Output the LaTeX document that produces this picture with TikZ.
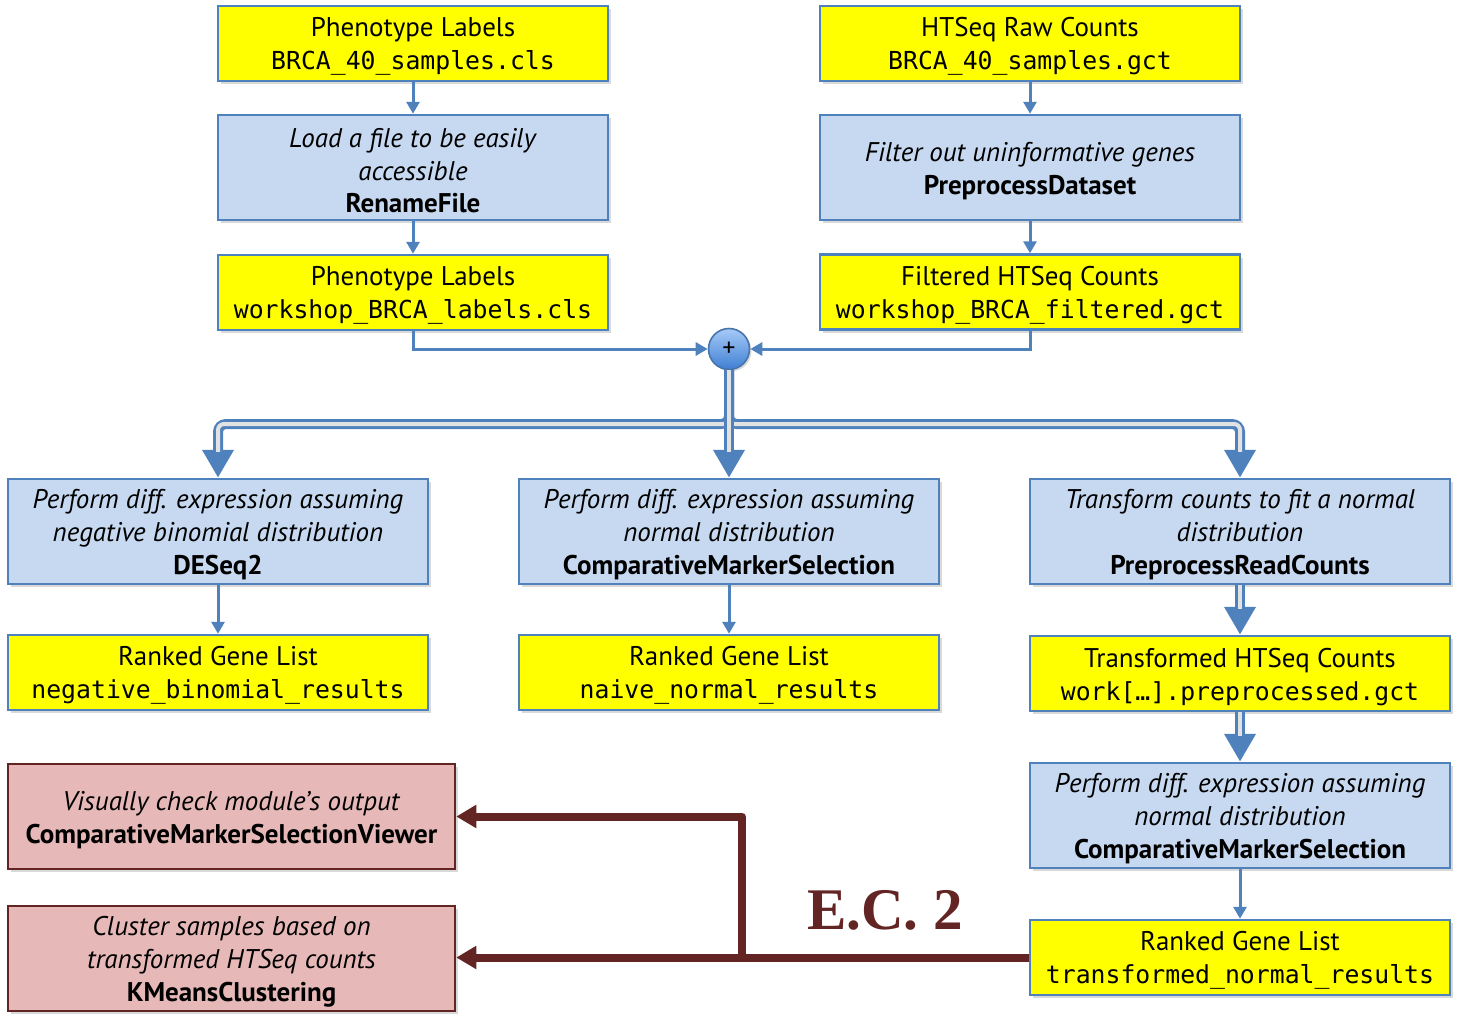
\documentclass[tikz,border=0pt]{standalone}
\usepackage{fontspec}
\setmainfont{PT Sans}
\setmonofont{DejaVu Sans Mono}
\newfontfamily\ecfont{Liberation Serif}
\usetikzlibrary{arrows.meta,shadows,calc}
\definecolor{boxblue}{HTML}{4F81BD}
\definecolor{yel}{HTML}{FFFF00}
\definecolor{lblue}{HTML}{C6D9F1}
\definecolor{rfill}{HTML}{E6B9B8}
\definecolor{rdark}{HTML}{632523}
\definecolor{gapcol}{HTML}{E2E2E2}
\definecolor{ctop}{HTML}{A6CAF8}
\definecolor{cbot}{HTML}{3F7FD3}
\newcommand{\mono}[1]{{\fontsize{12.4}{16.5}\selectfont\ttfamily #1}}
\newcommand{\tp}{\rule{0pt}{12.8pt}}
\tikzset{
  base/.style={draw, line width=1.25pt, align=center, inner sep=0pt,
    font=\fontsize{13.5}{16.4}\selectfont,
    drop shadow={shadow xshift=1.5pt, shadow yshift=-1.5pt, opacity=0.3}},
  data/.style={base, draw=boxblue, fill=yel},
  tool/.style={base, draw=boxblue, fill=lblue},
  extra/.style={base, draw=rdark, fill=rfill},
  nar/.style={minimum width=195pt},
  wid/.style={minimum width=210pt},
  rw/.style={minimum width=223.5pt},
  short/.style={minimum height=37.5pt},
  tall/.style={minimum height=52.5pt},
  thin/.style={draw=boxblue, line width=1.5pt, -{Triangle[length=6pt,width=6.5pt]}},
  dblout/.style={draw=boxblue, line width=5pt, rounded corners=4pt, -{Triangle[length=14pt,width=15pt]}},
  dblin/.style={draw=gapcol, line width=2pt, rounded corners=3pt, shorten >=13pt},
  redarrow/.style={draw=rdark, line width=4pt, line join=round, -{Triangle[length=10pt,width=11pt]}},
  plusnode/.style={circle, draw=boxblue!90!black, line width=0.8pt, minimum size=20.5pt, inner sep=0pt,
    top color=ctop, bottom color=cbot, font=\fontsize{13}{13}\selectfont,
    drop shadow={shadow xshift=1pt, shadow yshift=-1pt, opacity=0.3}}
}
\begin{document}
\begin{tikzpicture}[x=0.5pt,y=-0.5pt]
\useasboundingbox (0,0) rectangle (1466,1034);
% top left column
\node[data,nar,short] (A1) at (413,43.5) {\tp Phenotype Labels\\\mono{BRCA\_40\_samples.cls}};
\node[tool,nar,tall] (A2) at (413,167.5) {\tp\textit{Load a file to be easily}\\\textit{accessible}\\\textbf{RenameFile}};
\node[data,nar,short] (A3) at (413,292.5) {\tp Phenotype Labels\\\mono{workshop\_BRCA\_labels.cls}};
% top right column
\node[data,wid,short] (B1) at (1030,43.5) {\tp HTSeq Raw Counts\\\mono{BRCA\_40\_samples.gct}};
\node[tool,wid,tall] (B2) at (1030,167.5) {\tp\textit{Filter out uninformative genes}\\\textbf{PreprocessDataset}};
\node[data,wid,short] (B3) at (1030,292) {\tp Filtered HTSeq Counts\\\mono{workshop\_BRCA\_filtered.gct}};
% merge
\node[plusnode] (plus) at (729,349) {+};
\coordinate (split) at (729,424);
% middle row
\node[tool,wid,tall] (C1) at (218,531.5) {\tp\textit{Perform diff. expression assuming}\\\textit{negative binomial distribution}\\\textbf{DESeq2}};
\node[tool,wid,tall] (C2) at (729,531.5) {\tp\textit{Perform diff. expression assuming}\\\textit{normal distribution}\\\textbf{ComparativeMarkerSelection}};
\node[tool,wid,tall] (C3) at (1240,531.5) {\tp\textit{Transform counts to fit a normal}\\\textit{distribution}\\\textbf{PreprocessReadCounts}};
\node[data,wid,short] (D1) at (218,672.5) {\tp Ranked Gene List\\\mono{negative\_binomial\_results}};
\node[data,wid,short] (D2) at (729,672.5) {\tp Ranked Gene List\\\mono{naive\_normal\_results}};
\node[data,wid,short] (D3) at (1240,673.5) {\tp Transformed HTSeq Counts\\\mono{work[…].preprocessed.gct}};
\node[tool,wid,tall] (E3) at (1240,815.5) {\tp\textit{Perform diff. expression assuming}\\\textit{normal distribution}\\\textbf{ComparativeMarkerSelection}};
\node[data,wid,short] (F3) at (1240,957.5) {\tp Ranked Gene List\\\mono{transformed\_normal\_results}};
% extra credit
\node[extra,rw,tall] (R1) at (231.5,816.5) {\tp\textit{Visually check module’s output}\\\textbf{ComparativeMarkerSelectionViewer}};
\node[extra,rw,tall] (R2) at (231.5,958.5) {\tp\textit{Cluster samples based on}\\\textit{transformed HTSeq counts}\\\textbf{KMeansClustering}};
\node[text=rdark, font=\ecfont\bfseries\fontsize{29.5}{30}\selectfont] (ec) at (885,910) {E.C. 2};
\coordinate (ecsplit) at (742,957.5);
% thin arrows
\draw[thin] (A1) -- (A2);
\draw[thin] (A2) -- (A3);
\draw[thin] (B1) -- (B2);
\draw[thin] (B2) -- (B3);
\draw[thin] (A3.south) |- (plus.west);
\draw[thin] (B3.south) |- (plus.east);
\draw[thin] (C1) -- (D1);
\draw[thin] (C2) -- (D2);
\draw[thin] (E3) -- (F3);
% double arrows
\draw[dblout] (plus.south) -- (split) -| (C1.north);
\draw[dblin] (plus.south) -- (split) -| (C1.north);
\draw[dblout] (plus.south) -- (split) -| (C3.north);
\draw[dblin] (plus.south) -- (split) -| (C3.north);
\draw[dblout] (plus.south) -- (C2.north);
\draw[dblin] (plus.south) -- (C2.north);
\draw[dblout] (C3) -- (D3);
\draw[dblin] (C3) -- (D3);
\draw[dblout] (D3) -- (E3);
\draw[dblin] (D3) -- (E3);
% red arrows
\draw[redarrow] (F3.west) -- (F3.west -| R2.east);
\draw[redarrow] (ecsplit) |- (R1.east);
\end{tikzpicture}
\end{document}
